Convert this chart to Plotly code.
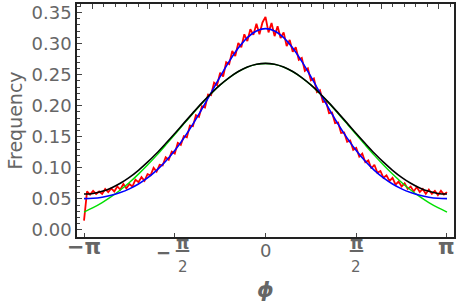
import numpy as np
import plotly.graph_objects as go

# ---- data ----
# measured frequencies, phi = -180..180 deg step 3
phi_data_deg = list(range(-180, 181, 3))
freq_data = [
    0.015, 0.062, 0.057, 0.063, 0.058, 0.062, 0.058, 0.066, 0.061, 0.067, 0.062,
    0.070, 0.065, 0.074, 0.067, 0.074, 0.070, 0.081, 0.077, 0.085, 0.079,
    0.090, 0.088, 0.100, 0.094, 0.105, 0.104, 0.117, 0.113, 0.126, 0.123,
    0.140, 0.137, 0.151, 0.149, 0.168, 0.167, 0.185, 0.182, 0.199, 0.197,
    0.218, 0.217, 0.237, 0.233, 0.253, 0.247, 0.270, 0.267, 0.288, 0.280,
    0.301, 0.294, 0.315, 0.304, 0.323, 0.314, 0.332, 0.315, 0.334, 0.343,
    0.318, 0.333, 0.312, 0.328, 0.309, 0.318, 0.296, 0.306, 0.287, 0.294,
    0.274, 0.277, 0.256, 0.260, 0.241, 0.244, 0.222, 0.225, 0.206, 0.207,
    0.188, 0.189, 0.172, 0.173, 0.156, 0.157, 0.142, 0.144, 0.129, 0.132,
    0.118, 0.123, 0.109, 0.112, 0.099, 0.105, 0.092, 0.095, 0.084, 0.088,
    0.079, 0.084, 0.073, 0.078, 0.070, 0.075, 0.066, 0.070, 0.062, 0.069,
    0.061, 0.066, 0.058, 0.065, 0.058, 0.063, 0.056, 0.063, 0.057, 0.061,
]

# fitted curves, phi = -180..180 deg step 9
phi_fit_deg = list(range(-180, 181, 9))
blue_half = [0.3240, 0.3203, 0.3096, 0.2928, 0.2713, 0.2467, 0.2208, 0.1950,
             0.1704, 0.1479, 0.1278, 0.1105, 0.0959, 0.0838, 0.0740, 0.0662,
             0.0602, 0.0558, 0.0528, 0.0510, 0.0504]
black_half = [0.2681, 0.2666, 0.2622, 0.2550, 0.2453, 0.2335, 0.2197, 0.2046,
              0.1885, 0.1720, 0.1553, 0.1391, 0.1235, 0.1091, 0.0961, 0.0847,
              0.0752, 0.0677, 0.0622, 0.0588, 0.0578]
green_half = [0.2680, 0.2665, 0.2621, 0.2549, 0.2451, 0.2332, 0.2193, 0.2040,
              0.1876, 0.1707, 0.1535, 0.1366, 0.1201, 0.1045, 0.0899, 0.0765,
              0.0644, 0.0536, 0.0441, 0.0359, 0.0289]
blue_fit = blue_half[::-1] + blue_half[1:]
black_fit = black_half[::-1] + black_half[1:]
green_fit = green_half[::-1] + green_half[1:]

y_ticks = [0.00, 0.05, 0.10, 0.15, 0.20, 0.25, 0.30, 0.35]
y_ticktext = ["0.00", "0.05", "0.10", "0.15", "0.20", "0.25", "0.30", "0.35"]

x_data = np.deg2rad(phi_data_deg)
x_fit = np.deg2rad(phi_fit_deg)
PI = np.pi

GRAY = "#666666"
FONT = "DejaVu Sans"

fig = go.Figure()
fig.add_trace(go.Scatter(x=x_data, y=freq_data, mode="lines",
                         line=dict(color="#ff0000", width=1.8)))
fig.add_trace(go.Scatter(x=x_fit, y=green_fit, mode="lines",
                         line=dict(color="#00e000", width=1.4, shape="spline")))
fig.add_trace(go.Scatter(x=x_fit, y=blue_fit, mode="lines",
                         line=dict(color="#0000ff", width=1.6, shape="spline")))
fig.add_trace(go.Scatter(x=x_fit, y=black_fit, mode="lines",
                         line=dict(color="#000000", width=1.6, shape="spline")))
# invisible trace to activate top axis
fig.add_trace(go.Scatter(x=[0], y=[0], xaxis="x2", mode="markers",
                         marker=dict(opacity=0), hoverinfo="skip"))

xr = [-3.263, 3.263]
yr = [-0.0113, 0.3637]
ML, MR, MT, MB = 77, 3, 4, 65

fig.update_layout(
    width=457, height=302,
    margin=dict(l=ML, r=MR, t=MT, b=MB, autoexpand=False),
    paper_bgcolor="white", plot_bgcolor="white",
    showlegend=False,
    font=dict(family=FONT, color=GRAY),
    xaxis=dict(range=xr, showgrid=False, zeroline=False, automargin=False,
               tickvals=[-PI, -PI / 2, 0, PI / 2, PI], showticklabels=False,
               ticks="inside", ticklen=4, tickcolor="#444", tickwidth=1,
               showline=True, linecolor="#222", linewidth=1.5),
    xaxis2=dict(range=xr, overlaying="x", side="top", showgrid=False,
                zeroline=False, showticklabels=False, automargin=False,
                tickvals=[-3, -2, -1, 0, 1, 2, 3],
                ticks="inside", ticklen=5, tickcolor="#444", tickwidth=1,
                minor=dict(dtick=0.2, tick0=0, ticks="inside", ticklen=3,
                           tickcolor="#444", tickwidth=1),
                showline=True, linecolor="#222", linewidth=1.5),
    yaxis=dict(range=yr, showgrid=False, zeroline=False, automargin=False,
               tickvals=y_ticks, ticktext=y_ticktext,
               tickfont=dict(size=18, color=GRAY, family=FONT),
               ticks="inside", ticklen=5, tickcolor="#444", tickwidth=1,
               minor=dict(dtick=0.01, tick0=0, ticks="inside", ticklen=3,
                          tickcolor="#444", tickwidth=1),
               showline=True, linecolor="#222", linewidth=1.5, mirror=True,
               title=dict(text="Frequency", font=dict(size=19, color=GRAY,
                                                      family=FONT),
                          standoff=4)),
)

def ann(x, text, yshift, size, bold=False, italic=False, xshift=0, color=GRAY):
    t = text
    if bold:
        t = "<b>" + t + "</b>"
    if italic:
        t = "<i>" + t + "</i>"
    fig.add_annotation(x=x, y=0, xref="x", yref="paper", text=t,
                       showarrow=False, yanchor="middle", xanchor="center",
                       yshift=yshift, xshift=xshift,
                       font=dict(size=size, color=color, family=FONT))

# bottom tick labels
ann(-PI, "−π", -10, 21, bold=True)
ann(PI, "π", -10, 21, bold=True)
ann(0, "0", -13, 18)
for s in (-1, 1):
    shift_px = 8 if s < 0 else 0
    ann(s * PI / 2, "π", -6, 17, bold=True, xshift=shift_px)
    ann(s * PI / 2, "—", -13, 15, bold=True, xshift=shift_px)
    ann(s * PI / 2, "2", -30, 15, xshift=shift_px)
ann(-PI / 2, "−", -15, 18, bold=True, xshift=-11)

# x axis title
ann(0, "ϕ", -53, 21, bold=True, italic=True)

fig.write_html("out.html", config={"displayModeBar": False},
               post_script="document.body.style.margin='0';"
                           "document.body.style.overflow='hidden';")
